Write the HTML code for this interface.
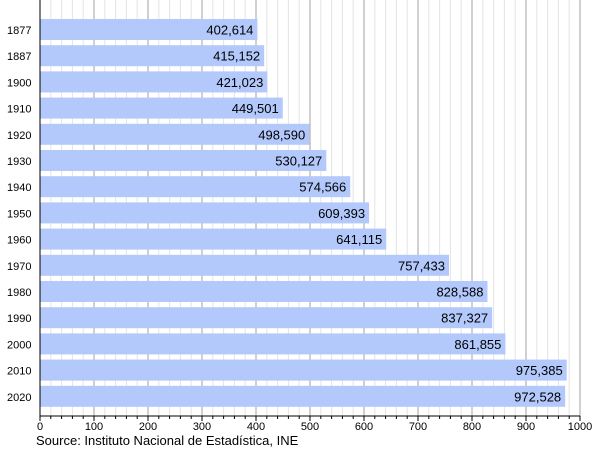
<!DOCTYPE html>
<html><head><style>body{margin:0;background:#fff}</style></head><body>
<svg width="600" height="450" xmlns="http://www.w3.org/2000/svg" font-family="Liberation Sans, sans-serif">
<g id="grid"></g>
<g id="bars"></g>
<g id="axis"></g>
<text x="36" y="445" font-size="13" fill="#000">Source: Instituto Nacional de Estadística, INE</text>
<script>
var ns="http://www.w3.org/2000/svg";
function el(p,t,a,txt){var e=document.createElementNS(ns,t);for(var k in a)e.setAttribute(k,a[k]);if(txt)e.textContent=txt;document.getElementById(p).appendChild(e);}
var x0=40,s=0.54,top=16,ax=416;
for(var v=20;v<=1000;v+=20){var x=x0+v*s;el('grid','line',{x1:x,x2:x,y1:top,y2:ax,stroke:(v%100==0)?'#a0a0a0':'#e4e4e4','stroke-width':1});}
var d=[["1877",402614],["1887",415152],["1900",421023],["1910",449501],["1920",498590],["1930",530127],["1940",574566],["1950",609393],["1960",641115],["1970",757433],["1980",828588],["1990",837327],["2000",861855],["2010",975385],["2020",972528]];
d.forEach(function(r,i){var y=19+i*26.2,w=r[1]/1000*s;
el('bars','rect',{x:x0,y:y,width:w,height:21,fill:'#b3c8fb'});
el('bars','text',{x:x0+w-4,y:y+15.5,'font-size':13,'text-anchor':'end'},r[1].toLocaleString('en-US'));
el('bars','text',{x:7,y:y+15,'font-size':11},r[0]);
for(var v=25;v<1000;v+=25){}
});
el('axis','line',{x1:x0,x2:x0,y1:top,y2:ax,stroke:'#000'});
el('axis','line',{x1:x0,x2:x0+540,y1:ax,y2:ax,stroke:'#000'});
for(var v=0;v<=1000;v+=20){var x=x0+v*s;el('axis','line',{x1:x,x2:x,y1:ax,y2:ax+(v%100==0?5:3),stroke:'#000'});}
for(var v=0;v<=1000;v+=100){el('axis','text',{x:x0+v*s,y:ax+14,'font-size':11,'text-anchor':'middle'},String(v));}
</script>
</svg>
</body></html>
